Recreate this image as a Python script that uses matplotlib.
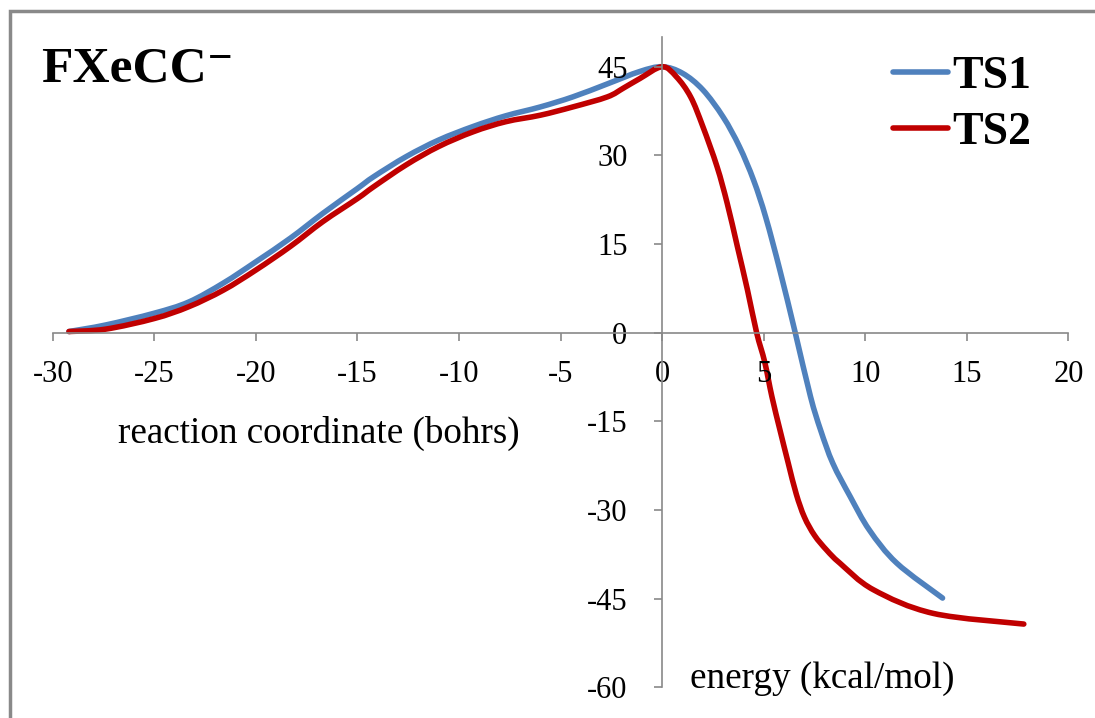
import matplotlib
matplotlib.use("Agg")
import matplotlib.pyplot as plt
import numpy as np
from matplotlib.patches import Rectangle, PathPatch
from matplotlib.path import Path
from matplotlib.lines import Line2D

# reaction coordinate (bohrs) / energy (kcal/mol)
ts1_x = [-29.2, -27.4, -25.0, -23.3, -21.6, -20.0, -18.3, -16.7, -15.0, -14.2, -12.6,
         -11.0, -9.3, -7.7, -6.0, -4.4, -2.7, -1.1, 0.0, 1.0, 2.0, 3.0, 3.8, 4.5, 5.1,
         5.8, 6.55, 7.3, 7.8, 8.4, 9.25, 10.2, 11.55, 13.8]
ts1_y = [0.2, 1.3, 3.3, 5.2, 8.4, 12.0, 16.0, 20.2, 24.4, 26.4, 29.8,
         32.6, 34.9, 36.7, 38.2, 39.9, 42.1, 44.2, 45.0, 43.9, 41.1, 36.5, 31.5, 25.8, 19.5,
         10.5, 0.0, -10.8, -16.5, -22.1, -27.7, -33.4, -39.0, -44.9]

ts2_x = [-29.2, -27.4, -25.0, -23.3, -21.6, -20.0, -18.3, -16.7, -15.0, -14.2, -12.6,
         -11.0, -9.3, -7.7, -6.0, -4.4, -2.7, -1.9, -1.1, 0.0, 0.7, 1.4, 2.0, 2.7, 3.2,
         3.7, 4.2, 4.65, 5.05, 5.4, 5.8, 6.2, 6.6, 7.0, 7.5, 8.1, 8.75, 10.4, 13.35, 17.8]
ts2_y = [0.2, 0.6, 2.4, 4.4, 7.2, 10.6, 14.6, 18.8, 22.7, 24.7, 28.4,
         31.5, 34.0, 35.7, 36.8, 38.2, 39.9, 41.4, 43.0, 45.0, 43.3, 39.9, 34.9, 28.1, 21.9,
         14.6, 7.2, 0.0, -5.0, -10.8, -16.5, -22.0, -27.3, -31.2, -34.3, -36.8, -39.0,
         -43.5, -47.5, -49.3]

x_ticks = [-30, -25, -20, -15, -10, -5, 0, 5, 10, 15, 20]
y_ticks = [-60, -45, -30, -15, 0, 15, 30, 45]

plt.rcParams['font.family'] = ['Liberation Serif', 'DejaVu Serif']
plt.rcParams['axes.unicode_minus'] = False

W, H = 1095, 718
gray = '#898989'
blue = '#4F81BD'
red = '#C00000'


def smooth_path(xs, ys):
    # excel-style smoothed line: bezier segments through the points
    p = np.column_stack([xs, ys])
    n = len(p)
    verts = [p[0]]
    codes = [Path.MOVETO]
    for i in range(n - 1):
        p0 = p[i - 1] if i > 0 else p[i]
        p1, p2 = p[i], p[i + 1]
        p3 = p[i + 2] if i + 2 < n else p[i + 1]
        verts += [p1 + (p2 - p0) / 6, p2 - (p3 - p1) / 6, p2]
        codes += [Path.CURVE4] * 3
    return Path(verts, codes)


fig = plt.figure(figsize=(W / 100, H / 100), dpi=100)
ax = fig.add_axes((52.7 / W, 1 - 687.3 / H, 1015.8 / W, 650.1 / H))
ax.patch.set_visible(False)

for xs, ys, c in [(ts1_x, ts1_y, blue), (ts2_x, ts2_y, red)]:
    ax.add_patch(PathPatch(smooth_path(xs, ys), fill=False, ec=c, lw=4,
                           capstyle='round', joinstyle='round'))

ax.set_xlim(-30, 20)
ax.set_ylim(-60, 50)
for s in ['top', 'right']:
    ax.spines[s].set_visible(False)
ax.spines['left'].set_position(('data', 0))
ax.spines['bottom'].set_position(('data', 0))
for s in ['left', 'bottom']:
    ax.spines[s].set_color(gray)
    ax.spines[s].set_linewidth(1.2)

ax.set_xticks(x_ticks)
ax.set_yticks(y_ticks)
ax.tick_params(axis='x', direction='out', length=6, width=1.2, color=gray,
               labelsize=22, pad=14)
ax.tick_params(axis='y', direction='out', length=6, width=1.2, color=gray,
               labelsize=22, pad=19)

handles = [Line2D([], [], color=blue, lw=4, solid_capstyle='round'),
           Line2D([], [], color=red, lw=4, solid_capstyle='round')]
ax.legend(handles, ['TS1', 'TS2'], loc='upper left',
          bbox_to_anchor=(893 / W, 1 - 56 / H), bbox_transform=fig.transFigure,
          frameon=False, borderpad=0, borderaxespad=0,
          handlelength=1.2, handletextpad=0.1, labelspacing=0.3,
          prop={'size': 33, 'weight': 'bold'})

fig.text(41 / W, 1 - 82 / H, 'FXeCC\u207b', fontsize=37, fontweight='bold', va='baseline')
fig.text(118 / W, 1 - 443 / H, 'reaction coordinate (bohrs)', fontsize=26.7, va='baseline')
fig.text(690 / W, 1 - 688 / H, 'energy (kcal/mol)', fontsize=26.7, va='baseline')

border = Rectangle((10 / W, -0.1), 1.2, 1 - 10.7 / H + 0.1, transform=fig.transFigure,
                   fill=False, ec=gray, lw=2.5)
fig.patches.append(border)

fig.savefig('out.png', dpi=100)
